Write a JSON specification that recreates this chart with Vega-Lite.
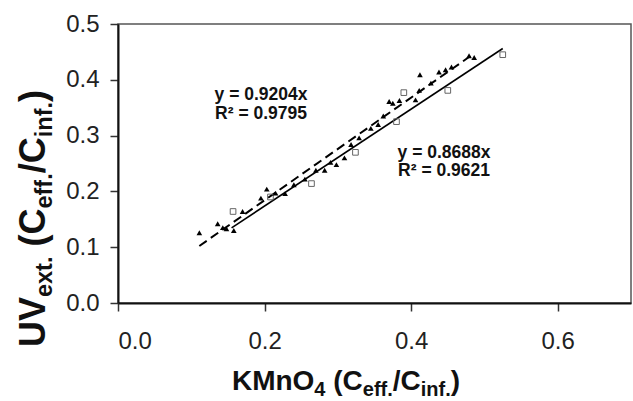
{
  "$schema": "https://vega.github.io/schema/vega-lite/v6.json",
  "width": 513,
  "height": 279,
  "autosize": {"type": "none"},
  "padding": {"left": 118, "top": 24, "right": 2, "bottom": 98},
  "background": "white",
  "config": {
    "font": "Liberation Sans",
    "view": {"stroke": "#555", "strokeWidth": 1.5}
  },
  "datasets": {
    "points": [
      {"series": "tri", "x": 0.111, "y": 0.126},
      {"series": "tri", "x": 0.136, "y": 0.142},
      {"series": "tri", "x": 0.143, "y": 0.135},
      {"series": "tri", "x": 0.148, "y": 0.133},
      {"series": "tri", "x": 0.158, "y": 0.130},
      {"series": "tri", "x": 0.170, "y": 0.164},
      {"series": "tri", "x": 0.195, "y": 0.188},
      {"series": "tri", "x": 0.203, "y": 0.204},
      {"series": "tri", "x": 0.215, "y": 0.197},
      {"series": "tri", "x": 0.228, "y": 0.196},
      {"series": "tri", "x": 0.240, "y": 0.212},
      {"series": "tri", "x": 0.255, "y": 0.222},
      {"series": "tri", "x": 0.270, "y": 0.238},
      {"series": "tri", "x": 0.282, "y": 0.238},
      {"series": "tri", "x": 0.290, "y": 0.252},
      {"series": "tri", "x": 0.298, "y": 0.248},
      {"series": "tri", "x": 0.309, "y": 0.260},
      {"series": "tri", "x": 0.318, "y": 0.284},
      {"series": "tri", "x": 0.329, "y": 0.296},
      {"series": "tri", "x": 0.345, "y": 0.313},
      {"series": "tri", "x": 0.355, "y": 0.320},
      {"series": "tri", "x": 0.362, "y": 0.335},
      {"series": "tri", "x": 0.370, "y": 0.361},
      {"series": "tri", "x": 0.375, "y": 0.358},
      {"series": "tri", "x": 0.384, "y": 0.363},
      {"series": "tri", "x": 0.406, "y": 0.364},
      {"series": "tri", "x": 0.411, "y": 0.381},
      {"series": "tri", "x": 0.412, "y": 0.409},
      {"series": "tri", "x": 0.427, "y": 0.394},
      {"series": "tri", "x": 0.438, "y": 0.414},
      {"series": "tri", "x": 0.447, "y": 0.418},
      {"series": "tri", "x": 0.455, "y": 0.423},
      {"series": "tri", "x": 0.479, "y": 0.443},
      {"series": "tri", "x": 0.486, "y": 0.440},
      {"series": "sq", "x": 0.157, "y": 0.164},
      {"series": "sq", "x": 0.208, "y": 0.190},
      {"series": "sq", "x": 0.264, "y": 0.214},
      {"series": "sq", "x": 0.324, "y": 0.270},
      {"series": "sq", "x": 0.380, "y": 0.325},
      {"series": "sq", "x": 0.390, "y": 0.377},
      {"series": "sq", "x": 0.450, "y": 0.381},
      {"series": "sq", "x": 0.525, "y": 0.445}
    ],
    "fits": [
      {"fit": "dashed", "x": 0.111, "y": 0.1022},
      {"fit": "dashed", "x": 0.486, "y": 0.4473},
      {"fit": "solid", "x": 0.155, "y": 0.1347},
      {"fit": "solid", "x": 0.525, "y": 0.4561}
    ],
    "notes": [
      {"x": 0.1952, "y": 0.3643, "label": "y = 0.9204x"},
      {"x": 0.1952, "y": 0.3304, "label": "R² = 0.9795"},
      {"x": 0.4449, "y": 0.2607, "label": "y = 0.8688x"},
      {"x": 0.4449, "y": 0.2268, "label": "R² = 0.9621"}
    ],
    "one": [{}]
  },
  "layer": [
    {
      "data": {"name": "fits"},
      "transform": [{"filter": "datum.fit === 'solid'"}],
      "mark": {"type": "line", "color": "black", "strokeWidth": 1.6},
      "encoding": {
        "x": {"field": "x", "type": "quantitative", "scale": {"domain": [0, 0.7], "nice": false, "zero": false},
          "axis": {"values": [0, 0.2, 0.4, 0.6], "format": ".1f", "title": null, "grid": false,
            "domainColor": "#111", "domainWidth": 2, "tickColor": "#333", "tickWidth": 1.5, "tickSize": 8,
            "labelFontSize": 24, "labelColor": "#222", "labelPadding": 18, "labelFont": "Liberation Sans", "labelFontWeight": "normal"}},
        "y": {"field": "y", "type": "quantitative", "scale": {"domain": [0, 0.5], "nice": false, "zero": false},
          "axis": {"values": [0, 0.1, 0.2, 0.3, 0.4, 0.5], "format": ".1f", "title": null, "grid": false,
            "domainColor": "#111", "domainWidth": 2, "tickColor": "#333", "tickWidth": 1.5, "tickSize": 8,
            "labelFontSize": 24, "labelColor": "#222", "labelPadding": 11, "labelFont": "Liberation Sans", "labelFontWeight": "normal"}}
      }
    },
    {
      "data": {"name": "fits"},
      "transform": [{"filter": "datum.fit === 'dashed'"}],
      "mark": {"type": "line", "color": "black", "strokeWidth": 2, "strokeDash": [9, 5]},
      "encoding": {
        "x": {"field": "x", "type": "quantitative"},
        "y": {"field": "y", "type": "quantitative"}
      }
    },
    {
      "data": {"name": "points"},
      "transform": [{"filter": "datum.series === 'sq'"}],
      "mark": {"type": "point", "shape": "square", "size": 32, "filled": false, "stroke": "#666", "strokeWidth": 1, "opacity": 1},
      "encoding": {
        "x": {"field": "x", "type": "quantitative"},
        "y": {"field": "y", "type": "quantitative"}
      }
    },
    {
      "data": {"name": "points"},
      "transform": [{"filter": "datum.series === 'tri'"}],
      "mark": {"type": "point", "shape": "triangle-up", "size": 32, "filled": true, "fill": "black", "opacity": 1},
      "encoding": {
        "x": {"field": "x", "type": "quantitative"},
        "y": {"field": "y", "type": "quantitative"}
      }
    },
    {
      "data": {"name": "notes"},
      "mark": {"type": "text", "fontSize": 17.5, "fontWeight": "bold", "align": "center", "baseline": "alphabetic", "color": "#111"},
      "encoding": {
        "x": {"field": "x", "type": "quantitative"},
        "y": {"field": "y", "type": "quantitative"},
        "text": {"field": "label"}
      }
    },
    {"data": {"name": "one"}, "mark": {"type": "text", "fontSize": 28, "fontWeight": "bold", "align": "left", "baseline": "alphabetic", "color": "#111", "dx": 0},
      "encoding": {"x": {"datum": 0.1555, "type": "quantitative"}, "y": {"datum": -0.1559, "type": "quantitative"}, "text": {"value": "KMnO"}}},
    {"data": {"name": "one"}, "mark": {"type": "text", "fontSize": 20, "fontWeight": "bold", "align": "left", "baseline": "alphabetic", "color": "#111", "dx": 82.4, "dy": 6},
      "encoding": {"x": {"datum": 0.1555, "type": "quantitative"}, "y": {"datum": -0.1559, "type": "quantitative"}, "text": {"value": "4"}}},
    {"data": {"name": "one"}, "mark": {"type": "text", "fontSize": 28, "fontWeight": "bold", "align": "left", "baseline": "alphabetic", "color": "#111", "dx": 101.3},
      "encoding": {"x": {"datum": 0.1555, "type": "quantitative"}, "y": {"datum": -0.1559, "type": "quantitative"}, "text": {"value": "(C"}}},
    {"data": {"name": "one"}, "mark": {"type": "text", "fontSize": 20, "fontWeight": "bold", "align": "left", "baseline": "alphabetic", "color": "#111", "dx": 130.8, "dy": 6},
      "encoding": {"x": {"datum": 0.1555, "type": "quantitative"}, "y": {"datum": -0.1559, "type": "quantitative"}, "text": {"value": "eff."}}},
    {"data": {"name": "one"}, "mark": {"type": "text", "fontSize": 28, "fontWeight": "bold", "align": "left", "baseline": "alphabetic", "color": "#111", "dx": 160.8},
      "encoding": {"x": {"datum": 0.1555, "type": "quantitative"}, "y": {"datum": -0.1559, "type": "quantitative"}, "text": {"value": "/C"}}},
    {"data": {"name": "one"}, "mark": {"type": "text", "fontSize": 20, "fontWeight": "bold", "align": "left", "baseline": "alphabetic", "color": "#111", "dx": 188.8, "dy": 6},
      "encoding": {"x": {"datum": 0.1555, "type": "quantitative"}, "y": {"datum": -0.1559, "type": "quantitative"}, "text": {"value": "inf."}}},
    {"data": {"name": "one"}, "mark": {"type": "text", "fontSize": 28, "fontWeight": "bold", "align": "left", "baseline": "alphabetic", "color": "#111", "dx": 218.8},
      "encoding": {"x": {"datum": 0.1555, "type": "quantitative"}, "y": {"datum": -0.1559, "type": "quantitative"}, "text": {"value": ")"}}},
    {"data": {"name": "one"}, "mark": {"type": "text", "fontSize": 36, "fontWeight": "bold", "align": "left", "baseline": "alphabetic", "color": "#111", "angle": 270, "dx": 0},
      "encoding": {"x": {"datum": -0.0996, "type": "quantitative"}, "y": {"datum": -0.0789, "type": "quantitative"}, "text": {"value": "UV"}}},
    {"data": {"name": "one"}, "mark": {"type": "text", "fontSize": 23.5, "fontWeight": "bold", "align": "left", "baseline": "alphabetic", "color": "#111", "angle": 270, "dx": 50, "dy": 7},
      "encoding": {"x": {"datum": -0.0996, "type": "quantitative"}, "y": {"datum": -0.0789, "type": "quantitative"}, "text": {"value": "ext."}}},
    {"data": {"name": "one"}, "mark": {"type": "text", "fontSize": 36, "fontWeight": "bold", "align": "left", "baseline": "alphabetic", "color": "#111", "angle": 270, "dx": 100.5},
      "encoding": {"x": {"datum": -0.0996, "type": "quantitative"}, "y": {"datum": -0.0789, "type": "quantitative"}, "text": {"value": "(C"}}},
    {"data": {"name": "one"}, "mark": {"type": "text", "fontSize": 23.5, "fontWeight": "bold", "align": "left", "baseline": "alphabetic", "color": "#111", "angle": 270, "dx": 138.5, "dy": 7},
      "encoding": {"x": {"datum": -0.0996, "type": "quantitative"}, "y": {"datum": -0.0789, "type": "quantitative"}, "text": {"value": "eff."}}},
    {"data": {"name": "one"}, "mark": {"type": "text", "fontSize": 36, "fontWeight": "bold", "align": "left", "baseline": "alphabetic", "color": "#111", "angle": 270, "dx": 173.8},
      "encoding": {"x": {"datum": -0.0996, "type": "quantitative"}, "y": {"datum": -0.0789, "type": "quantitative"}, "text": {"value": "/C"}}},
    {"data": {"name": "one"}, "mark": {"type": "text", "fontSize": 23.5, "fontWeight": "bold", "align": "left", "baseline": "alphabetic", "color": "#111", "angle": 270, "dx": 209.8, "dy": 7},
      "encoding": {"x": {"datum": -0.0996, "type": "quantitative"}, "y": {"datum": -0.0789, "type": "quantitative"}, "text": {"value": "inf."}}},
    {"data": {"name": "one"}, "mark": {"type": "text", "fontSize": 36, "fontWeight": "bold", "align": "left", "baseline": "alphabetic", "color": "#111", "angle": 270, "dx": 245.1},
      "encoding": {"x": {"datum": -0.0996, "type": "quantitative"}, "y": {"datum": -0.0789, "type": "quantitative"}, "text": {"value": ")"}}}
  ]
}
